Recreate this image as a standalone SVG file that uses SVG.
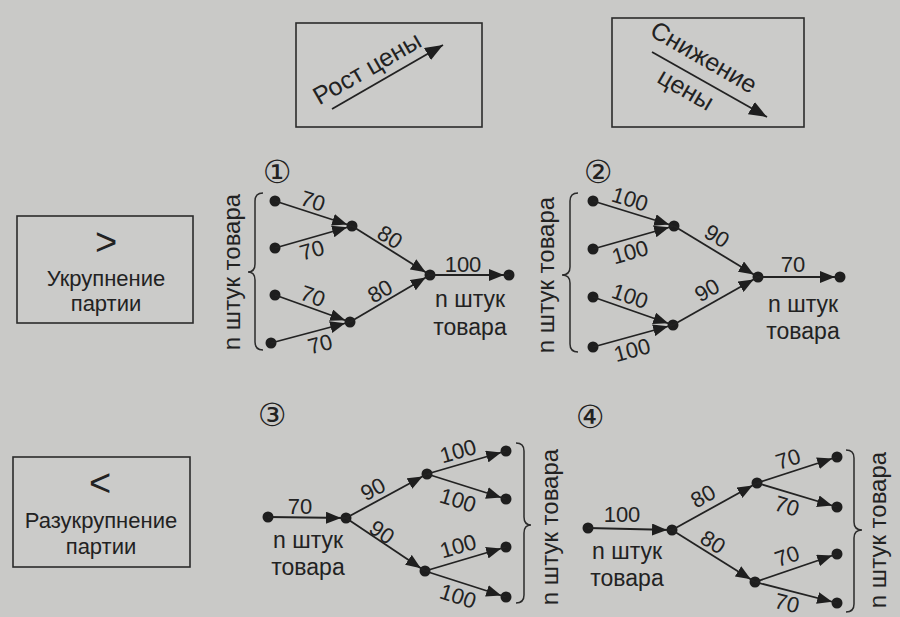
<svg xmlns="http://www.w3.org/2000/svg" width="900" height="617" viewBox="0 0 900 617">
<defs>
<style>
.bg{fill:#c9c9c7}
.box{fill:#cbcbc9;stroke:#2b2b2b;stroke-width:1.6}
.e{stroke:#222;stroke-width:1.8;fill:none;marker-end:url(#ah)}
.big{stroke:#222;stroke-width:1.8;fill:none;marker-end:url(#ahb)}
.n{fill:#1e1e1e}
.br{stroke:#2b2b2b;stroke-width:1.5;fill:none}
text{font-family:"Liberation Sans",Arial,sans-serif;fill:#222}
.lb{font-size:22px;text-anchor:middle}
.tx{font-size:23px;text-anchor:middle}
.tt{font-size:25px;text-anchor:middle}
.bx{font-size:22px;text-anchor:middle}
.num{font-family:"DejaVu Sans",sans-serif;font-size:32px;text-anchor:middle}
.sym{font-size:38px;text-anchor:middle;font-weight:300}
.vt{font-size:24px;text-anchor:middle}
</style>
<marker id="ah" viewBox="0 0 15 12" refX="20" refY="6" markerWidth="15" markerHeight="12" markerUnits="userSpaceOnUse" orient="auto"><path d="M0,0 L15,6 L0,12 z" fill="#1e1e1e"/></marker>
<marker id="ahb" viewBox="0 0 18 14" refX="18" refY="7" markerWidth="18" markerHeight="14" markerUnits="userSpaceOnUse" orient="auto"><path d="M0,0 L18,7 L0,14 z" fill="#1e1e1e"/></marker>
</defs>
<rect class="bg" x="0" y="0" width="900" height="617"/>

<!-- Top boxes -->
<g id="rost">
<rect class="box" x="296" y="23" width="186" height="104"/>
<line class="big" x1="332" y1="109" x2="443" y2="45"/>
<text class="tt" transform="translate(367,68) rotate(-30)" dy="0.35em">Рост цены</text>
</g>
<g id="snizh">
<rect class="box" x="612" y="18" width="192" height="109"/>
<line class="big" x1="652" y1="52" x2="767" y2="117"/>
<text class="tt" transform="translate(704,57) rotate(30)" dy="0.35em">Снижение</text>
<text class="tt" transform="translate(686,89) rotate(30)" dy="0.35em">цены</text>
</g>

<!-- Left boxes -->
<g id="ukr">
<rect class="box" x="17" y="216" width="176" height="107"/>
<text class="sym" x="106" y="255">&gt;</text>
<text class="bx" x="106" y="286">Укрупнение</text>
<text class="bx" x="106" y="311">партии</text>
</g>
<g id="razukr">
<rect class="box" x="13" y="457" width="177" height="110"/>
<text class="sym" x="100" y="496">&lt;</text>
<text class="bx" x="101" y="528">Разукрупнение</text>
<text class="bx" x="101" y="554">партии</text>
</g>

<!-- Diagram 1 -->
<g id="d1">
<text class="num" x="277" y="183">①</text>
<path class="br" d="M263,193 Q255,193 255,201 L255,264 Q255,272 248,272 Q255,272 255,280 L255,342 Q255,350 263,350"/>
<text class="vt" transform="translate(232,272) rotate(-90)" dy="0.35em">n штук товара</text>
<circle class="n" cx="275" cy="201" r="5.5"/>
<circle class="n" cx="275" cy="248" r="5.5"/>
<circle class="n" cx="275" cy="295" r="5.5"/>
<circle class="n" cx="271" cy="343" r="5.5"/>
<circle class="n" cx="352" cy="226" r="5.5"/>
<circle class="n" cx="350" cy="322" r="5.5"/>
<circle class="n" cx="430" cy="275" r="5.5"/>
<circle class="n" cx="509" cy="275" r="5.5"/>
<text class="lb" transform="translate(313,201) rotate(18)" dy="0.35em">70</text>
<text class="lb" transform="translate(312,250) rotate(-16)" dy="0.35em">70</text>
<text class="lb" transform="translate(390,237) rotate(32)" dy="0.35em">80</text>
<text class="lb" transform="translate(380,291) rotate(-30)" dy="0.35em">80</text>
<text class="lb" transform="translate(313,296) rotate(20)" dy="0.35em">70</text>
<text class="lb" transform="translate(320,344) rotate(-15)" dy="0.35em">70</text>
<text class="lb" x="463" y="264" dy="0.35em">100</text>
<text class="tx" x="470" y="307">n штук</text>
<text class="tx" x="470" y="335">товара</text>
</g>

<!-- Diagram 2 -->
<g id="d2">
<text class="num" x="598" y="183">②</text>
<path class="br" d="M578,193 Q570,193 570,201 L570,267 Q570,275 562,275 Q570,275 570,283 L570,344 Q570,352 578,352"/>
<text class="vt" transform="translate(546,275) rotate(-90)" dy="0.35em">n штук товара</text>
<circle class="n" cx="593" cy="201" r="5.5"/>
<circle class="n" cx="593" cy="249" r="5.5"/>
<circle class="n" cx="593" cy="297" r="5.5"/>
<circle class="n" cx="593" cy="347" r="5.5"/>
<circle class="n" cx="674" cy="226" r="5.5"/>
<circle class="n" cx="673" cy="325" r="5.5"/>
<circle class="n" cx="758" cy="277" r="5.5"/>
<circle class="n" cx="840" cy="277" r="5.5"/>
<text class="lb" transform="translate(630,199) rotate(17)" dy="0.35em">100</text>
<text class="lb" transform="translate(630,252) rotate(-16)" dy="0.35em">100</text>
<text class="lb" transform="translate(717,236) rotate(31)" dy="0.35em">90</text>
<text class="lb" transform="translate(707,290) rotate(-30)" dy="0.35em">90</text>
<text class="lb" transform="translate(630,296) rotate(19)" dy="0.35em">100</text>
<text class="lb" transform="translate(632,350) rotate(-15)" dy="0.35em">100</text>
<text class="lb" x="793" y="264" dy="0.35em">70</text>
<text class="tx" x="803" y="312">n штук</text>
<text class="tx" x="803" y="339">товара</text>
</g>

<!-- Diagram 3 -->
<g id="d3">
<text class="num" x="272" y="426">③</text>
<path class="br" d="M516,443 Q524,443 524,451 L524,517 Q524,525 531,525 Q524,525 524,533 L524,595 Q524,603 516,603"/>
<text class="vt" transform="translate(550,527) rotate(-90)" dy="0.35em">n штук товара</text>
<circle class="n" cx="268" cy="517" r="5.5"/>
<circle class="n" cx="346" cy="518" r="5.5"/>
<circle class="n" cx="427" cy="474" r="5.5"/>
<circle class="n" cx="425" cy="571" r="5.5"/>
<circle class="n" cx="506" cy="451" r="5.5"/>
<circle class="n" cx="506" cy="499" r="5.5"/>
<circle class="n" cx="506" cy="547" r="5.5"/>
<circle class="n" cx="506" cy="597" r="5.5"/>
<text class="lb" x="300" y="506" dy="0.35em">70</text>
<text class="tx" x="308" y="548">n штук</text>
<text class="tx" x="308" y="575">товара</text>
<text class="lb" transform="translate(373,489) rotate(-28)" dy="0.35em">90</text>
<text class="lb" transform="translate(382,532) rotate(34)" dy="0.35em">90</text>
<text class="lb" transform="translate(458,451) rotate(-16)" dy="0.35em">100</text>
<text class="lb" transform="translate(458,500) rotate(17)" dy="0.35em">100</text>
<text class="lb" transform="translate(458,546) rotate(-16)" dy="0.35em">100</text>
<text class="lb" transform="translate(458,596) rotate(18)" dy="0.35em">100</text>
</g>

<!-- Diagram 4 -->
<g id="d4">
<text class="num" x="590" y="428">④</text>
<path class="br" d="M846,450 Q854,450 854,458 L854,522 Q854,530 862,530 Q854,530 854,538 L854,604 Q854,612 846,612"/>
<text class="vt" transform="translate(878,530) rotate(-90)" dy="0.35em">n штук товара</text>
<circle class="n" cx="588" cy="528" r="5.5"/>
<circle class="n" cx="672" cy="530" r="5.5"/>
<circle class="n" cx="757" cy="483" r="5.5"/>
<circle class="n" cx="755" cy="582" r="5.5"/>
<circle class="n" cx="837" cy="457" r="5.5"/>
<circle class="n" cx="837" cy="507" r="5.5"/>
<circle class="n" cx="837" cy="554" r="5.5"/>
<circle class="n" cx="837" cy="603" r="5.5"/>
<text class="lb" x="622" y="514" dy="0.35em">100</text>
<text class="tx" x="627" y="559">n штук</text>
<text class="tx" x="627" y="586">товара</text>
<text class="lb" transform="translate(703,496) rotate(-29)" dy="0.35em">80</text>
<text class="lb" transform="translate(713,542) rotate(32)" dy="0.35em">80</text>
<text class="lb" transform="translate(788,459) rotate(-18)" dy="0.35em">70</text>
<text class="lb" transform="translate(787,506) rotate(17)" dy="0.35em">70</text>
<text class="lb" transform="translate(787,556) rotate(-19)" dy="0.35em">70</text>
<text class="lb" transform="translate(787,603) rotate(14)" dy="0.35em">70</text>
</g>

<!-- Connectors -->
<g id="connectors">
<line class="e" x1="275" y1="201" x2="352" y2="226"/>
<line class="e" x1="275" y1="248" x2="352" y2="226"/>
<line class="e" x1="275" y1="295" x2="350" y2="322"/>
<line class="e" x1="271" y1="343" x2="350" y2="322"/>
<line class="e" x1="352" y1="226" x2="430" y2="275"/>
<line class="e" x1="350" y1="322" x2="430" y2="275"/>
<line class="e" x1="430" y1="275" x2="509" y2="275"/>

<line class="e" x1="593" y1="201" x2="674" y2="226"/>
<line class="e" x1="593" y1="249" x2="674" y2="226"/>
<line class="e" x1="593" y1="297" x2="673" y2="325"/>
<line class="e" x1="593" y1="347" x2="673" y2="325"/>
<line class="e" x1="674" y1="226" x2="758" y2="277"/>
<line class="e" x1="673" y1="325" x2="758" y2="277"/>
<line class="e" x1="758" y1="277" x2="840" y2="277"/>

<line class="e" x1="268" y1="517" x2="346" y2="518"/>
<line class="e" x1="346" y1="518" x2="427" y2="474"/>
<line class="e" x1="346" y1="518" x2="425" y2="571"/>
<line class="e" x1="427" y1="474" x2="506" y2="451"/>
<line class="e" x1="427" y1="474" x2="506" y2="499"/>
<line class="e" x1="425" y1="571" x2="506" y2="547"/>
<line class="e" x1="425" y1="571" x2="506" y2="597"/>

<line class="e" x1="588" y1="528" x2="672" y2="530"/>
<line class="e" x1="672" y1="530" x2="757" y2="483"/>
<line class="e" x1="672" y1="530" x2="755" y2="582"/>
<line class="e" x1="757" y1="483" x2="837" y2="457"/>
<line class="e" x1="757" y1="483" x2="837" y2="507"/>
<line class="e" x1="755" y1="582" x2="837" y2="554"/>
<line class="e" x1="755" y1="582" x2="837" y2="603"/>
</g>
</svg>
